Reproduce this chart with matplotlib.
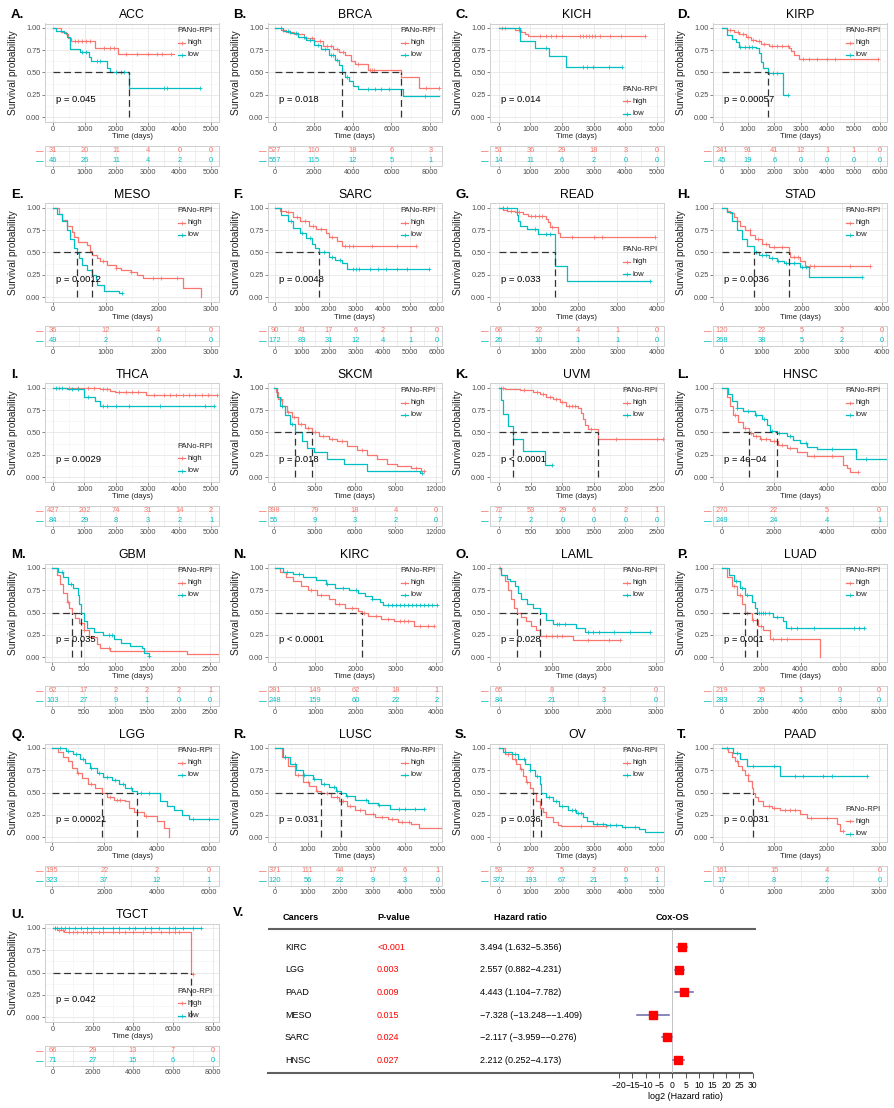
import matplotlib
matplotlib.use('Agg')
import matplotlib.pyplot as plt
from matplotlib.ticker import AutoMinorLocator
import numpy as np

plt.rcParams['font.family'] = ['Liberation Sans', 'DejaVu Sans']
plt.rcParams['axes.unicode_minus'] = True

W, H = 894, 1108
RED = '#F8766D'
CYAN = '#00BFC4'
TXT = '#4D4D4D'

# ---------------- KM data ----------------
# A. ACC
ACC_HI_T = [0, 250, 400, 480, 560, 1330, 2060, 3830]
ACC_HI_S = [1, 0.96, 0.93, 0.89, 0.85, 0.78, 0.71, 0.71]
ACC_HI_C = [710, 800, 920, 1060, 1165, 1610, 1820, 1930, 2300, 2670, 2990, 3300, 3460, 3730]
ACC_LO_T = [0, 100, 340, 445, 550, 870, 1130, 1190, 1720, 1820, 2400, 4650]
ACC_LO_S = [1, 0.97, 0.94, 0.9, 0.76, 0.73, 0.67, 0.63, 0.55, 0.51, 0.33, 0.33]
ACC_LO_C = [920, 1060, 1400, 1500, 1980, 2140, 2250, 3520, 3620, 4650]
ACC_RISK_HI = [31, 20, 11, 4, 0, 0]
ACC_RISK_LO = [46, 26, 11, 4, 2, 0]
ACC_TICKS = [0, 1000, 2000, 3000, 4000, 5000]

# B. BRCA
BRCA_HI_T = [0, 300, 600, 1000, 1500, 2000, 2500, 3000, 3300, 3600, 3900, 4100, 4800, 6480, 7410, 8450]
BRCA_HI_S = [1, 0.98, 0.96, 0.93, 0.89, 0.85, 0.8, 0.76, 0.73, 0.7, 0.63, 0.59, 0.53, 0.45, 0.33, 0.33]
BRCA_HI_C = [400, 800, 1200, 1600, 1900, 2300, 2700, 2900, 3200, 3500, 4300, 4900, 5000, 5100, 7800, 8450]
BRCA_LO_T = [0, 400, 800, 1200, 1600, 2000, 2400, 2800, 3100, 3300, 3450, 3600, 3800, 4000, 4300, 6570, 8450]
BRCA_LO_S = [1, 0.97, 0.94, 0.9, 0.86, 0.81, 0.76, 0.7, 0.64, 0.58, 0.5, 0.45, 0.4, 0.35, 0.31, 0.24, 0.24]
BRCA_LO_C = [300, 700, 1100, 1500, 1800, 2200, 2600, 2900, 3000, 3200, 3700, 4800, 5140, 5470, 5890, 7700]
BRCA_RISK_HI = [527, 110, 18, 6, 3]
BRCA_RISK_LO = [557, 115, 12, 5, 1]
BRCA_TICKS = [0, 2000, 4000, 6000, 8000]

# C. KICH
KICH_HI_T = [0, 500, 710, 815, 920, 4630]
KICH_HI_S = [1, 0.98, 0.96, 0.93, 0.91, 0.91]
KICH_HI_C = [85, 190, 650, 1300, 1500, 1650, 1800, 2000, 2550, 2650, 2750, 2850, 2950, 3050, 3200, 3500, 3850, 4630]
KICH_LO_T = [0, 660, 1130, 1570, 2120, 3900]
KICH_LO_S = [1, 0.85, 0.77, 0.68, 0.56, 0.56]
KICH_LO_C = [640, 1500, 2650, 2800, 2960, 3480, 3900]
KICH_RISK_HI = [51, 36, 29, 18, 3, 0]
KICH_RISK_LO = [14, 11, 6, 2, 0, 0]
KICH_TICKS = [0, 1000, 2000, 3000, 4000, 5000]

# D. KIRP
KIRP_HI_T = [0, 200, 450, 660, 915, 1100, 1300, 1490, 1800, 2570, 2630, 2760, 2950, 5930]
KIRP_HI_S = [1, 0.98, 0.96, 0.93, 0.9, 0.87, 0.85, 0.82, 0.8, 0.77, 0.74, 0.7, 0.65, 0.65]
KIRP_HI_C = [300, 600, 800, 1000, 1200, 1400, 1600, 1900, 2100, 2300, 2500, 3100, 3300, 3600, 4000, 4300, 5930]
KIRP_LO_T = [0, 215, 400, 530, 660, 1300, 1420, 1490, 1550, 1740, 2310, 2500]
KIRP_LO_S = [1, 0.92, 0.88, 0.84, 0.79, 0.77, 0.72, 0.62, 0.55, 0.49, 0.25, 0.25]
KIRP_LO_C = [700, 900, 1050, 1150, 1800, 1950, 2100, 2500]
KIRP_RISK_HI = [241, 91, 41, 12, 1, 1, 0]
KIRP_RISK_LO = [45, 19, 6, 0, 0, 0, 0]
KIRP_TICKS = [0, 1000, 2000, 3000, 4000, 5000, 6000]

# E. MESO
MESO_HI_T = [0, 108, 170, 267, 360, 400, 470, 650, 712, 745, 840, 900, 1030, 1190, 1285, 1475, 1600, 1700, 2460, 2800]
MESO_HI_S = [1, 0.93, 0.87, 0.8, 0.73, 0.67, 0.62, 0.58, 0.52, 0.47, 0.44, 0.4, 0.36, 0.33, 0.3, 0.28, 0.25, 0.21, 0.1, 0.0]
MESO_HI_C = [950, 1200, 1480, 1900, 2050, 2350]
MESO_LO_T = [0, 76, 170, 267, 330, 395, 458, 490, 550, 650, 745, 810, 840, 965, 1250, 1315]
MESO_LO_S = [1, 0.93, 0.85, 0.75, 0.65, 0.55, 0.49, 0.44, 0.36, 0.3, 0.25, 0.2, 0.14, 0.07, 0.04, 0.04]
MESO_LO_C = [1315]
MESO_RISK_HI = [36, 12, 4, 0]
MESO_RISK_LO = [49, 2, 0, 0]
MESO_TICKS = [0, 1000, 2000, 3000]

# F. SARC
SARC_HI_T = [0, 200, 420, 670, 910, 1270, 1520, 1880, 2000, 2300, 2480, 5200]
SARC_HI_S = [1, 0.97, 0.95, 0.9, 0.85, 0.8, 0.76, 0.72, 0.67, 0.63, 0.57, 0.57]
SARC_HI_C = [500, 800, 1100, 1400, 1700, 2100, 2600, 2750, 2900, 3600, 4500, 5200]
SARC_LO_T = [0, 240, 485, 670, 910, 1150, 1390, 1500, 1640, 2000, 2240, 2480, 2670, 5700]
SARC_LO_S = [1, 0.92, 0.85, 0.78, 0.72, 0.66, 0.6, 0.55, 0.5, 0.45, 0.42, 0.38, 0.32, 0.32]
SARC_LO_C = [600, 1000, 1300, 1800, 2100, 2400, 2900, 3000, 3100, 3500, 3800, 4100, 4500, 4900, 5700]
SARC_RISK_HI = [90, 41, 17, 6, 2, 1, 0]
SARC_RISK_LO = [172, 83, 31, 12, 4, 1, 0]
SARC_TICKS = [0, 1000, 2000, 3000, 4000, 5000, 6000]

# G. READ
READ_HI_T = [0, 110, 195, 400, 615, 740, 1200, 1245, 1290, 1500, 1540, 3940]
READ_HI_S = [1, 0.98, 0.97, 0.95, 0.93, 0.91, 0.88, 0.84, 0.79, 0.72, 0.67, 0.67]
READ_HI_C = [100, 300, 500, 800, 900, 1000, 1100, 1350, 1850, 2400, 2600, 3940]
READ_LO_T = [0, 445, 490, 530, 700, 995, 1415, 1710, 3815]
READ_LO_S = [1, 0.92, 0.85, 0.8, 0.76, 0.71, 0.35, 0.18, 0.18]
READ_LO_C = [100, 200, 900, 1200, 1300, 3815]
READ_RISK_HI = [66, 22, 4, 1, 0]
READ_RISK_LO = [26, 10, 1, 1, 0]
READ_TICKS = [0, 1000, 2000, 3000, 4000]

# H. STAD
STAD_HI_T = [0, 125, 210, 290, 375, 460, 580, 710, 830, 1000, 1170, 1665, 1710, 1960, 2080, 3710]
STAD_HI_S = [1, 0.97, 0.94, 0.9, 0.85, 0.8, 0.75, 0.7, 0.65, 0.6, 0.56, 0.5, 0.45, 0.41, 0.35, 0.35]
STAD_HI_C = [700, 900, 1100, 1300, 1500, 1800, 1900, 2200, 2300, 3200, 3710]
STAD_LO_T = [0, 125, 250, 375, 500, 625, 790, 915, 1170, 1375, 1540, 1960, 2170, 3500]
STAD_LO_S = [1, 0.95, 0.85, 0.75, 0.65, 0.57, 0.5, 0.47, 0.44, 0.41, 0.38, 0.34, 0.22, 0.22]
STAD_LO_C = [850, 1000, 1100, 1250, 1400, 1600, 1800, 2000, 2100, 3500]
STAD_RISK_HI = [120, 22, 5, 2, 0]
STAD_RISK_LO = [268, 38, 5, 2, 0]
STAD_TICKS = [0, 1000, 2000, 3000, 4000]

# I. THCA
THCA_HI_T = [0, 1500, 1820, 1980, 2930, 5200]
THCA_HI_S = [1, 0.99, 0.97, 0.95, 0.92, 0.92]
THCA_HI_C = [200, 500, 800, 1100, 1300, 1600, 1700, 2100, 2300, 2500, 2700, 3200, 3500, 3700, 3900,
             4100, 4300, 4500, 4700, 4900, 5200]
THCA_LO_T = [0, 445, 975, 1345, 1500, 5100]
THCA_LO_S = [1, 0.99, 0.9, 0.85, 0.8, 0.8]
THCA_LO_C = [100, 300, 600, 800, 1100, 1600, 1700, 2000, 2400, 3400, 4800, 5100]
THCA_RISK_HI = [427, 202, 74, 31, 14, 2]
THCA_RISK_LO = [84, 29, 8, 3, 2, 1]
THCA_TICKS = [0, 1000, 2000, 3000, 4000, 5000]

# J. SKCM
SKCM_HI_T = [0, 150, 320, 570, 940, 1320, 1810, 2310, 2810, 3300, 4050, 4670, 5420, 6160, 6900, 7650,
             8400, 9140, 10140, 10880, 11100]
SKCM_HI_S = [1, 0.95, 0.88, 0.8, 0.73, 0.67, 0.6, 0.55, 0.5, 0.46, 0.43, 0.4, 0.35, 0.3, 0.25, 0.2,
             0.15, 0.12, 0.1, 0.07, 0.07]
SKCM_HI_C = [500, 1000, 1500, 2000, 2500, 3000, 3600, 4300, 5000, 6500, 10500, 11100]
SKCM_LO_T = [0, 200, 450, 820, 1190, 1570, 2060, 2430, 2930, 3930, 5170, 6900, 10800, 11000]
SKCM_LO_S = [1, 0.9, 0.8, 0.7, 0.6, 0.5, 0.4, 0.33, 0.28, 0.2, 0.15, 0.07, 0.04, 0.04]
SKCM_LO_C = [600, 1300, 11000]
SKCM_RISK_HI = [398, 79, 18, 4, 0]
SKCM_RISK_LO = [55, 9, 3, 2, 0]
SKCM_TICKS = [0, 3000, 6000, 9000, 12000]

# K. UVM
UVM_HI_T = [0, 90, 325, 535, 640, 745, 850, 955, 1060, 1240, 1295, 1330, 1360, 1400, 1557, 2590]
UVM_HI_S = [1, 0.99, 0.98, 0.96, 0.93, 0.9, 0.88, 0.84, 0.8, 0.78, 0.72, 0.65, 0.58, 0.54, 0.43, 0.43]
UVM_HI_C = [30, 60, 400, 600, 700, 800, 900, 1000, 1100, 1150, 1200, 1450, 1850, 2500, 2590]
UVM_LO_T = [0, 25, 63, 140, 220, 377, 720, 830]
UVM_LO_S = [1, 0.86, 0.71, 0.57, 0.43, 0.29, 0.14, 0.14]
UVM_LO_C = [830]
UVM_RISK_HI = [72, 53, 29, 6, 2, 1]
UVM_RISK_LO = [7, 2, 0, 0, 0, 0]
UVM_TICKS = [0, 500, 1000, 1500, 2000, 2500]

# L. HNSC
HNSC_HI_T = [0, 190, 320, 445, 635, 825, 1050, 1205, 1460, 1840, 2160, 2475, 2855, 3235, 4630, 4760, 4885, 5200]
HNSC_HI_S = [1, 0.9, 0.8, 0.7, 0.62, 0.55, 0.49, 0.46, 0.43, 0.4, 0.36, 0.33, 0.28, 0.24, 0.14, 0.1, 0.06, 0.06]
HNSC_HI_C = [500, 900, 1100, 1300, 1500, 1700, 2000, 2300, 2600, 3500, 4200, 5200]
HNSC_LO_T = [0, 255, 380, 570, 825, 1270, 1520, 1710, 1840, 2090, 2475, 2730, 2985, 3235, 3615, 5100, 6300]
HNSC_LO_S = [1, 0.93, 0.85, 0.78, 0.74, 0.7, 0.65, 0.58, 0.52, 0.49, 0.46, 0.42, 0.38, 0.34, 0.31, 0.2, 0.2]
HNSC_LO_C = [600, 1000, 1300, 1600, 1900, 2200, 2600, 3200, 4200, 5500]
HNSC_RISK_HI = [270, 22, 5, 0]
HNSC_RISK_LO = [249, 24, 4, 1]
HNSC_TICKS = [0, 2000, 4000, 6000]

# M. GBM
GBM_HI_T = [0, 70, 120, 175, 230, 270, 305, 360, 415, 495, 575, 705, 760, 920, 2140, 2640]
GBM_HI_S = [1, 0.92, 0.82, 0.72, 0.62, 0.55, 0.5, 0.44, 0.38, 0.3, 0.22, 0.15, 0.1, 0.07, 0.03, 0.03]
GBM_HI_C = [250, 500, 900]
GBM_LO_T = [0, 95, 175, 255, 335, 405, 430, 455, 495, 545, 655, 810, 970, 1080, 1235, 1420, 1450, 1525]
GBM_LO_S = [1, 0.95, 0.9, 0.82, 0.78, 0.7, 0.6, 0.5, 0.4, 0.33, 0.28, 0.25, 0.2, 0.16, 0.12, 0.1, 0.05, 0.01]
GBM_LO_C = [150, 300, 900, 950, 1525]
GBM_RISK_HI = [62, 17, 2, 2, 2, 1]
GBM_RISK_LO = [103, 27, 9, 1, 0, 0]
GBM_TICKS = [0, 500, 1000, 1500, 2000, 2500]

# N. KIRC
KIRC_HI_T = [0, 120, 285, 445, 650, 810, 1055, 1340, 1500, 1745, 2070, 2150, 2310, 2640, 2960, 3450, 3935]
KIRC_HI_S = [1, 0.95, 0.9, 0.85, 0.8, 0.75, 0.7, 0.65, 0.6, 0.55, 0.52, 0.5, 0.46, 0.43, 0.41, 0.35, 0.35]
KIRC_HI_C = [900, 1150, 1600, 1900, 2200, 2500, 2800, 3100, 3200, 3300, 3600, 3800, 3935]
KIRC_LO_T = [0, 200, 445, 690, 1015, 1260, 1500, 1825, 2070, 2230, 2395, 2600, 2680, 4015]
KIRC_LO_S = [1, 0.96, 0.93, 0.9, 0.86, 0.82, 0.78, 0.75, 0.72, 0.68, 0.65, 0.62, 0.58, 0.58]
KIRC_LO_C = [300, 600, 1300, 1700, 2000, 2400, 2800, 2900, 3000, 3100, 3200, 3300, 3400, 3500, 3600,
             3700, 3800, 3900, 4015]
KIRC_RISK_HI = [281, 149, 62, 18, 1]
KIRC_RISK_LO = [248, 159, 60, 22, 2]
KIRC_TICKS = [0, 1000, 2000, 3000, 4000]

# O. LAML
LAML_HI_T = [0, 30, 110, 170, 215, 280, 345, 425, 520, 615, 710, 775, 1410, 2300]
LAML_HI_S = [1, 0.92, 0.85, 0.75, 0.65, 0.55, 0.5, 0.45, 0.4, 0.35, 0.3, 0.24, 0.19, 0.19]
LAML_HI_C = [20, 900, 1000, 1100, 1200, 1700, 2100, 2300]
LAML_LO_T = [0, 30, 140, 200, 300, 360, 425, 535, 650, 780, 900, 1030, 1475, 1635, 2875]
LAML_LO_S = [1, 0.92, 0.88, 0.85, 0.8, 0.72, 0.65, 0.6, 0.55, 0.49, 0.42, 0.37, 0.33, 0.28, 0.28]
LAML_LO_C = [1100, 1150, 1250, 1700, 1800, 1900, 2200, 2500, 2875]
LAML_RISK_HI = [65, 8, 2, 0]
LAML_RISK_LO = [84, 21, 3, 0]
LAML_TICKS = [0, 1000, 2000, 3000]

# P. LUAD
LUAD_HI_T = [0, 250, 505, 760, 1010, 1180, 1515, 1850, 2100, 2440, 4970]
LUAD_HI_S = [1, 0.9, 0.8, 0.7, 0.6, 0.5, 0.42, 0.35, 0.3, 0.2, 0.0]
LUAD_HI_C = [600, 900, 1300, 1600, 2000, 2600, 3000, 3300]
LUAD_LO_T = [0, 335, 590, 925, 1180, 1515, 1680, 1770, 2610, 3115, 3280, 7240]
LUAD_LO_S = [1, 0.92, 0.85, 0.77, 0.7, 0.62, 0.55, 0.5, 0.45, 0.4, 0.33, 0.33]
LUAD_LO_C = [700, 1000, 1300, 1900, 2000, 2100, 2200, 2400, 2800, 3500, 3800, 4700, 6700, 7000, 7240]
LUAD_RISK_HI = [219, 15, 1, 0, 0]
LUAD_RISK_LO = [283, 29, 5, 3, 0]
LUAD_TICKS = [0, 2000, 4000, 6000, 8000]

# Q. LGG
LGG_HI_T = [0, 230, 420, 615, 745, 935, 1130, 1385, 1640, 1900, 2090, 2350, 2795, 2925, 3115, 3500, 4010, 4270, 4460]
LGG_HI_S = [1, 0.95, 0.9, 0.85, 0.78, 0.72, 0.66, 0.6, 0.55, 0.5, 0.45, 0.42, 0.4, 0.33, 0.28, 0.24, 0.18, 0.1, 0.0]
LGG_HI_C = [1000, 1500, 2200, 2500, 2600, 3600]
LGG_LO_T = [0, 550, 810, 1065, 1255, 1450, 1705, 1960, 2280, 2540, 2795, 3050, 3240, 4140, 4400, 4650,
            4975, 5230, 6350]
LGG_LO_S = [1, 0.97, 0.93, 0.88, 0.83, 0.77, 0.72, 0.67, 0.64, 0.6, 0.55, 0.52, 0.49, 0.4, 0.35, 0.3,
            0.25, 0.2, 0.2]
LGG_LO_C = [300, 600, 900, 1200, 1500, 1800, 2100, 2400, 2700, 3000, 3400, 3700, 5400, 6000]
LGG_RISK_HI = [195, 22, 2, 0]
LGG_RISK_LO = [323, 37, 12, 1]
LGG_TICKS = [0, 2000, 4000, 6000]

# R. LUSC
LUSC_HI_T = [0, 200, 400, 600, 855, 1055, 1260, 1410, 1710, 1960, 2210, 2465, 2765, 3070, 3470, 3770,
             4175, 4425, 5100]
LUSC_HI_S = [1, 0.9, 0.8, 0.7, 0.62, 0.57, 0.52, 0.5, 0.45, 0.4, 0.35, 0.3, 0.26, 0.22, 0.2, 0.17,
             0.15, 0.1, 0.1]
LUSC_HI_C = [300, 700, 1000, 1300, 1600, 1900, 2100, 2300, 2600, 3000, 3300, 3600, 3900, 4100]
LUSC_LO_T = [0, 250, 450, 655, 855, 1155, 1410, 1660, 1860, 2010, 2165, 2465, 2870, 3170, 3520, 4580]
LUSC_LO_S = [1, 0.9, 0.82, 0.75, 0.7, 0.65, 0.6, 0.56, 0.52, 0.5, 0.46, 0.42, 0.38, 0.36, 0.32, 0.32]
LUSC_LO_C = [300, 600, 900, 1200, 1500, 1800, 1900, 2200, 2800, 3200, 3800, 4000, 4300, 4580]
LUSC_RISK_HI = [371, 111, 44, 17, 6, 1]
LUSC_RISK_LO = [120, 56, 22, 9, 3, 0]
LUSC_TICKS = [0, 1000, 2000, 3000, 4000, 5000]

# S. OV
OV_HI_T = [0, 190, 400, 555, 660, 765, 870, 975, 1080, 1180, 1285, 1390, 1495, 1705, 1860, 1965, 3400]
OV_HI_S = [1, 0.93, 0.88, 0.82, 0.76, 0.68, 0.62, 0.55, 0.5, 0.4, 0.33, 0.28, 0.22, 0.17, 0.14, 0.12, 0.12]
OV_HI_C = [300, 500, 700, 900, 2600, 3400]
OV_LO_T = [0, 135, 400, 605, 815, 975, 1130, 1285, 1340, 1495, 1705, 1915, 2175, 2435, 2645, 2800,
           2960, 3380, 3900, 4425, 4635, 5180]
OV_LO_S = [1, 0.96, 0.93, 0.88, 0.82, 0.75, 0.68, 0.6, 0.5, 0.45, 0.4, 0.35, 0.3, 0.27, 0.23, 0.18,
           0.15, 0.13, 0.11, 0.09, 0.06, 0.06]
OV_LO_C = [200, 500, 800, 1000, 1200, 1600, 1800, 2000, 2300, 2400, 2500, 2600, 3100, 3300, 3500, 3700,
           4000, 4300]
OV_RISK_HI = [53, 22, 5, 2, 0, 0]
OV_RISK_LO = [372, 193, 67, 21, 5, 1]
OV_TICKS = [0, 1000, 2000, 3000, 4000, 5000]

# T. PAAD
PAAD_HI_T = [0, 125, 190, 255, 315, 380, 445, 505, 570, 600, 635, 700, 790, 950, 1110, 1490, 1615,
             2190, 2250, 2315]
PAAD_HI_S = [1, 0.95, 0.9, 0.85, 0.8, 0.75, 0.7, 0.63, 0.55, 0.5, 0.45, 0.4, 0.35, 0.33, 0.3, 0.26,
             0.21, 0.15, 0.07, 0.07]
PAAD_HI_C = [100, 300, 500, 900, 1000, 1200, 1300, 1400, 1700, 2000, 2315]
PAAD_LO_T = [0, 220, 350, 475, 1110, 2760]
PAAD_LO_S = [1, 0.94, 0.88, 0.8, 0.69, 0.69]
PAAD_LO_C = [300, 600, 1000, 1395, 1555, 1935, 2090, 2760]
PAAD_RISK_HI = [161, 15, 4, 0]
PAAD_RISK_LO = [17, 8, 2, 0]
PAAD_TICKS = [0, 1000, 2000, 3000]

# U. TGCT
TGCT_HI_T = [0, 200, 540, 700, 6910, 7000]
TGCT_HI_S = [1, 0.98, 0.96, 0.95, 0.48, 0.48]
TGCT_HI_C = [100, 300, 500, 800, 1000, 1200, 1500, 1700, 1900, 2300, 2500, 3000, 3300, 3600, 4000,
             4500, 4900, 5400, 5800, 6100, 6300, 7000]
TGCT_LO_T = [0, 7410]
TGCT_LO_S = [1, 1]
TGCT_LO_C = [100, 200, 400, 600, 800, 1100, 1400, 1700, 2000, 2500, 3000, 3300, 3800, 4100, 4600,
             4900, 5300, 5800, 6100, 6500, 7000, 7410]
TGCT_RISK_HI = [66, 29, 13, 7, 0]
TGCT_RISK_LO = [71, 27, 15, 6, 0]
TGCT_TICKS = [0, 2000, 4000, 6000, 8000]

# ---------------- Cox table data ----------------
COX_CANCERS = ['KIRC', 'LGG', 'PAAD', 'MESO', 'SARC', 'HNSC']
COX_P = ['<0.001', '0.003', '0.009', '0.015', '0.024', '0.027']
COX_HR = [3.494, 2.557, 4.443, -7.328, -2.117, 2.212]
COX_LO = [1.632, 0.882, 1.104, -13.248, -3.959, 0.252]
COX_HI = [5.356, 4.231, 7.782, -1.409, -0.276, 4.173]
COX_TICKS = [-20, -15, -10, -5, 0, 5, 10, 15, 20, 25, 30]

# letter, name, curves, risk, ticks, xlim, p text, legend title y (axes frac)
PANELS = [
    ('A.', 'ACC', ACC_HI_T, ACC_HI_S, ACC_HI_C, ACC_LO_T, ACC_LO_S, ACC_LO_C, ACC_RISK_HI, ACC_RISK_LO,
     ACC_TICKS, (-250, 5250), 'p = 0.045', 0.93),
    ('B.', 'BRCA', BRCA_HI_T, BRCA_HI_S, BRCA_HI_C, BRCA_LO_T, BRCA_LO_S, BRCA_LO_C, BRCA_RISK_HI,
     BRCA_RISK_LO, BRCA_TICKS, (-350, 8600), 'p = 0.018', 0.93),
    ('C.', 'KICH', KICH_HI_T, KICH_HI_S, KICH_HI_C, KICH_LO_T, KICH_LO_S, KICH_LO_C, KICH_RISK_HI,
     KICH_RISK_LO, KICH_TICKS, (-280, 5220), 'p = 0.014', 0.33),
    ('D.', 'KIRP', KIRP_HI_T, KIRP_HI_S, KIRP_HI_C, KIRP_LO_T, KIRP_LO_S, KIRP_LO_C, KIRP_RISK_HI,
     KIRP_RISK_LO, KIRP_TICKS, (-330, 6270), 'p = 0.00057', 0.93),
    ('E.', 'MESO', MESO_HI_T, MESO_HI_S, MESO_HI_C, MESO_LO_T, MESO_LO_S, MESO_LO_C, MESO_RISK_HI,
     MESO_RISK_LO, MESO_TICKS, (-150, 3150), 'p = 0.0012', 0.93),
    ('F.', 'SARC', SARC_HI_T, SARC_HI_S, SARC_HI_C, SARC_LO_T, SARC_LO_S, SARC_LO_C, SARC_RISK_HI,
     SARC_RISK_LO, SARC_TICKS, (-255, 6180), 'p = 0.0048', 0.93),
    ('G.', 'READ', READ_HI_T, READ_HI_S, READ_HI_C, READ_LO_T, READ_LO_S, READ_LO_C, READ_RISK_HI,
     READ_RISK_LO, READ_TICKS, (-230, 4180), 'p = 0.033', 0.53),
    ('H.', 'STAD', STAD_HI_T, STAD_HI_S, STAD_HI_C, STAD_LO_T, STAD_LO_S, STAD_LO_C, STAD_RISK_HI,
     STAD_RISK_LO, STAD_TICKS, (-225, 4130), 'p = 0.0036', 0.93),
    ('I.', 'THCA', THCA_HI_T, THCA_HI_S, THCA_HI_C, THCA_LO_T, THCA_LO_S, THCA_LO_C, THCA_RISK_HI,
     THCA_RISK_LO, THCA_TICKS, (-245, 5250), 'p = 0.0029', 0.36),
    ('J.', 'SKCM', SKCM_HI_T, SKCM_HI_S, SKCM_HI_C, SKCM_LO_T, SKCM_LO_S, SKCM_LO_C, SKCM_RISK_HI,
     SKCM_RISK_LO, SKCM_TICKS, (-450, 12450), 'p = 0.018', 0.93),
    ('K.', 'UVM', UVM_HI_T, UVM_HI_S, UVM_HI_C, UVM_LO_T, UVM_LO_S, UVM_LO_C, UVM_RISK_HI, UVM_RISK_LO,
     UVM_TICKS, (-146, 2610), 'p < 0.0001', 0.93),
    ('L.', 'HNSC', HNSC_HI_T, HNSC_HI_S, HNSC_HI_C, HNSC_LO_T, HNSC_LO_S, HNSC_LO_C, HNSC_RISK_HI,
     HNSC_RISK_LO, HNSC_TICKS, (-330, 6300), 'p = 4e\u221204', 0.93),
    ('M.', 'GBM', GBM_HI_T, GBM_HI_S, GBM_HI_C, GBM_LO_T, GBM_LO_S, GBM_LO_C, GBM_RISK_HI, GBM_RISK_LO,
     GBM_TICKS, (-116, 2640), 'p = 0.035', 0.93),
    ('N.', 'KIRC', KIRC_HI_T, KIRC_HI_S, KIRC_HI_C, KIRC_LO_T, KIRC_LO_S, KIRC_LO_C, KIRC_RISK_HI,
     KIRC_RISK_LO, KIRC_TICKS, (-170, 4140), 'p < 0.0001', 0.93),
    ('O.', 'LAML', LAML_HI_T, LAML_HI_S, LAML_HI_C, LAML_LO_T, LAML_LO_S, LAML_LO_C, LAML_RISK_HI,
     LAML_RISK_LO, LAML_TICKS, (-177, 3150), 'p = 0.028', 0.93),
    ('P.', 'LUAD', LUAD_HI_T, LUAD_HI_S, LUAD_HI_C, LUAD_LO_T, LUAD_LO_S, LUAD_LO_C, LUAD_RISK_HI,
     LUAD_RISK_LO, LUAD_TICKS, (-455, 8400), 'p = 0.001', 0.93),
    ('Q.', 'LGG', LGG_HI_T, LGG_HI_S, LGG_HI_C, LGG_LO_T, LGG_LO_S, LGG_LO_C, LGG_RISK_HI, LGG_RISK_LO,
     LGG_TICKS, (-270, 6380), 'p = 0.00021', 0.93),
    ('R.', 'LUSC', LUSC_HI_T, LUSC_HI_S, LUSC_HI_C, LUSC_LO_T, LUSC_LO_S, LUSC_LO_C, LUSC_RISK_HI,
     LUSC_RISK_LO, LUSC_TICKS, (-220, 5130), 'p = 0.031', 0.93),
    ('S.', 'OV', OV_HI_T, OV_HI_S, OV_HI_C, OV_LO_T, OV_LO_S, OV_LO_C, OV_RISK_HI, OV_RISK_LO,
     OV_TICKS, (-280, 5220), 'p = 0.036', 0.93),
    ('T.', 'PAAD', PAAD_HI_T, PAAD_HI_S, PAAD_HI_C, PAAD_LO_T, PAAD_LO_S, PAAD_LO_C, PAAD_RISK_HI,
     PAAD_RISK_LO, PAAD_TICKS, (-165, 3145), 'p = 0.0031', 0.33),
    ('U.', 'TGCT', TGCT_HI_T, TGCT_HI_S, TGCT_HI_C, TGCT_LO_T, TGCT_LO_S, TGCT_LO_C, TGCT_RISK_HI,
     TGCT_RISK_LO, TGCT_TICKS, (-390, 8300), 'p = 0.042', 0.31),
]


def px(x, y, w, h):
    # pixel box (top-left origin) -> figure fraction rect
    return [x / W, 1 - (y + h) / H, w / W, h / H]


def fy(y):
    return 1 - y / H


def surv_at(t, s, x):
    idx = np.searchsorted(np.asarray(t), np.asarray(x), side='right') - 1
    return np.asarray(s)[idx]


def median_time(t, s):
    for ti, si in zip(t, s):
        if si <= 0.5:
            return ti
    return None


def style_grid(ax):
    ax.set_axisbelow(True)
    ax.xaxis.set_minor_locator(AutoMinorLocator(2))
    ax.grid(True, which='major', color='#E6E6E6', lw=0.6)
    ax.grid(True, which='minor', color='#F2F2F2', lw=0.4)
    for sp in ax.spines.values():
        sp.set_color('#CFCFCF')
        sp.set_linewidth(0.7)
    ax.tick_params(which='major', length=2, width=0.5, color='#555555', labelsize=5.3,
                   labelcolor=TXT, pad=1.2)
    ax.tick_params(which='minor', length=0)


def draw_km(ax, p):
    (letter, name, hi_t, hi_s, hi_c, lo_t, lo_s, lo_c, r_hi, r_lo, ticks, xlim, ptxt, leg_y) = p
    style_grid(ax)
    ax.set_xlim(*xlim)
    ax.set_ylim(-0.05, 1.05)
    ax.set_xticks(ticks)
    ax.set_xticklabels([str(t) for t in ticks])
    ax.set_yticks([0, 0.25, 0.5, 0.75, 1.0])
    ax.set_yticklabels(['0.00', '0.25', '0.50', '0.75', '1.00'])
    ax.yaxis.set_minor_locator(AutoMinorLocator(2))
    ax.tick_params(which='minor', length=0)

    for t, s, c, col in ((hi_t, hi_s, hi_c, RED), (lo_t, lo_s, lo_c, CYAN)):
        ax.step(t, s, where='post', color=col, lw=0.9, zorder=3)
        ax.plot(c, surv_at(t, s, c), '+', color=col, ms=3, mew=0.55, zorder=3)

    meds = [m for m in (median_time(hi_t, hi_s), median_time(lo_t, lo_s)) if m is not None]
    if meds:
        ax.plot([0, max(meds)], [0.5, 0.5], color='#333333', lw=0.9, dashes=(5.5, 3), zorder=4)
        for m in meds:
            ax.plot([m, m], [0, 0.5], color='#333333', lw=0.9, dashes=(5.5, 3), zorder=4)

    ax.text(0.062, 0.2, ptxt, transform=ax.get_yaxis_transform(), fontsize=6.8,
            va='center', ha='left', color='black', zorder=5)

    # legend
    lx = 0.76
    ax.text(lx, leg_y, 'PANo-RPI', transform=ax.transAxes, fontsize=5.6, va='center',
            ha='left', color='#222222')
    for k, (lab, col) in enumerate((('high', RED), ('low', CYAN))):
        yy = leg_y - 0.125 * (k + 1)
        ax.plot([lx + 0.005, lx + 0.045], [yy, yy], transform=ax.transAxes, color=col, lw=0.9)
        ax.plot([lx + 0.025], [yy], '+', transform=ax.transAxes, color=col, ms=3, mew=0.55)
        ax.text(lx + 0.06, yy, lab, transform=ax.transAxes, fontsize=5.6, va='center',
                ha='left', color='#222222')


def draw_risk(tab, p):
    r_hi, r_lo, ticks, xlim = p[8], p[9], p[10], p[11]
    tab.set_xlim(*xlim)
    tab.set_ylim(0.5, 2.5)
    tab.set_xticks(ticks)
    tab.set_xticklabels([str(t) for t in ticks])
    tab.set_axisbelow(True)
    tab.xaxis.set_minor_locator(AutoMinorLocator(2))
    tab.grid(True, which='major', color='#E6E6E6', lw=0.6)
    tab.grid(True, which='minor', axis='x', color='#E6E6E6', lw=0.5)
    for sp in tab.spines.values():
        sp.set_color('#CFCFCF')
        sp.set_linewidth(0.7)
    tab.set_yticks([1, 2])
    tab.set_yticklabels(['\u2014', '\u2014'])
    for lbl, col in zip(tab.get_yticklabels(), (CYAN, RED)):
        lbl.set_color(col)
        lbl.set_fontweight('bold')
    tab.tick_params(axis='y', length=0, labelsize=5.5, pad=1.2)
    tab.tick_params(axis='x', which='major', length=1.5, width=0.5, color='#555555',
                    labelsize=5.3, labelcolor=TXT, pad=1)
    tab.tick_params(which='minor', length=0)
    for tk, a, b in zip(ticks, r_hi, r_lo):
        tab.text(tk, 2, str(a), color=RED, ha='center', va='center', fontsize=5.4)
        tab.text(tk, 1, str(b), color=CYAN, ha='center', va='center', fontsize=5.4)


fig = plt.figure(figsize=(W / 100, H / 100), dpi=100)
fig.patch.set_facecolor('white')

COL_X = [45, 268, 490, 713]
AX_W = 174
LETTER_X = [11, 233, 455, 677]

for i, p in enumerate(PANELS):
    r, c = divmod(i, 4)
    y0 = 180 * r
    left = COL_X[c]
    ax = fig.add_axes(px(left, 23.5 + y0, AX_W, 98))
    draw_km(ax, p)
    fig.text(LETTER_X[c] / W, fy(15 + y0), p[0], fontsize=9.5, fontweight='bold',
             ha='left', va='center')
    fig.text((left + AX_W / 2) / W, fy(15 + y0), p[1], fontsize=8.8, ha='center', va='center')
    fig.text((left - 32) / W, fy(72.5 + y0), 'Survival probability', rotation=90,
             fontsize=7.3, ha='center', va='center', color='#222222')
    fig.text((left + AX_W / 2) / W, fy(137 + y0), 'Time (days)', fontsize=5.6,
             ha='center', va='center', color='#222222')
    tab = fig.add_axes(px(left, 145.7 + y0, AX_W, 20))
    draw_risk(tab, p)

# ---------------- V. Cox table + forest plot ----------------
fig.text(233 / W, fy(913), 'V.', fontsize=9.5, fontweight='bold', ha='left', va='center')

tbl = fig.add_axes(px(260, 895, 634, 213))
tbl.set_xlim(260, 894)
tbl.set_ylim(1108, 895)
tbl.axis('off')
tbl.plot([268, 756], [929, 929], color='#606060', lw=1.5, solid_capstyle='butt')
tbl.plot([267, 753], [1073, 1073], color='#606060', lw=1.5, solid_capstyle='butt')

HDR_Y = 917
tbl.text(283, HDR_Y, 'Cancers', fontsize=6.6, fontweight='bold', ha='left', va='center')
tbl.text(377, HDR_Y, 'P-value', fontsize=6.6, fontweight='bold', ha='left', va='center')
tbl.text(520, HDR_Y, 'Hazard ratio', fontsize=6.6, fontweight='bold', ha='center', va='center')
tbl.text(672, HDR_Y, 'Cox-OS', fontsize=6.6, fontweight='bold', ha='center', va='center')

ROW0, ROWSTEP = 947, 22.67
for k, (cn, pv, hr, lo, hi) in enumerate(zip(COX_CANCERS, COX_P, COX_HR, COX_LO, COX_HI)):
    yy = ROW0 + k * ROWSTEP
    tbl.text(285, yy, cn, fontsize=6.5, ha='left', va='center')
    tbl.text(377, yy, pv, fontsize=6.5, ha='left', va='center', color='#FF0000')
    hr_txt = f'{hr:.3f} ({lo:.3f}-{hi:.3f})'.replace('-', '\u2212')
    tbl.text(480, yy, hr_txt, fontsize=6.5, ha='left', va='center')

fa = fig.add_axes(px(619, 929, 133.7, 144))
fa.patch.set_alpha(0)
fa.set_xlim(-20, 30)
fa.set_ylim(5 + 13 / ROWSTEP, -18 / ROWSTEP)
fa.axvline(0, color='#BBBBBB', lw=0.6, zorder=1)
for k, (hr, lo, hi) in enumerate(zip(COX_HR, COX_LO, COX_HI)):
    fa.plot([lo, hi], [k, k], color='#6666AA', lw=1.1, zorder=2)
    fa.plot([hr], [k], 's', color='#FF0000', ms=5.2, zorder=3)
for sp in fa.spines.values():
    sp.set_visible(False)
fa.set_yticks([])
fa.set_xticks(COX_TICKS)
fa.set_xticklabels([f'{t}'.replace('-', '\u2212') for t in COX_TICKS])
fa.tick_params(axis='x', length=3.5, width=0.6, color='#333333', labelsize=6.2, pad=2.5)
fa.set_xlabel('log2 (Hazard ratio)', fontsize=6.5, labelpad=1.5)

fig.savefig('out.png', dpi=100, facecolor='white')
